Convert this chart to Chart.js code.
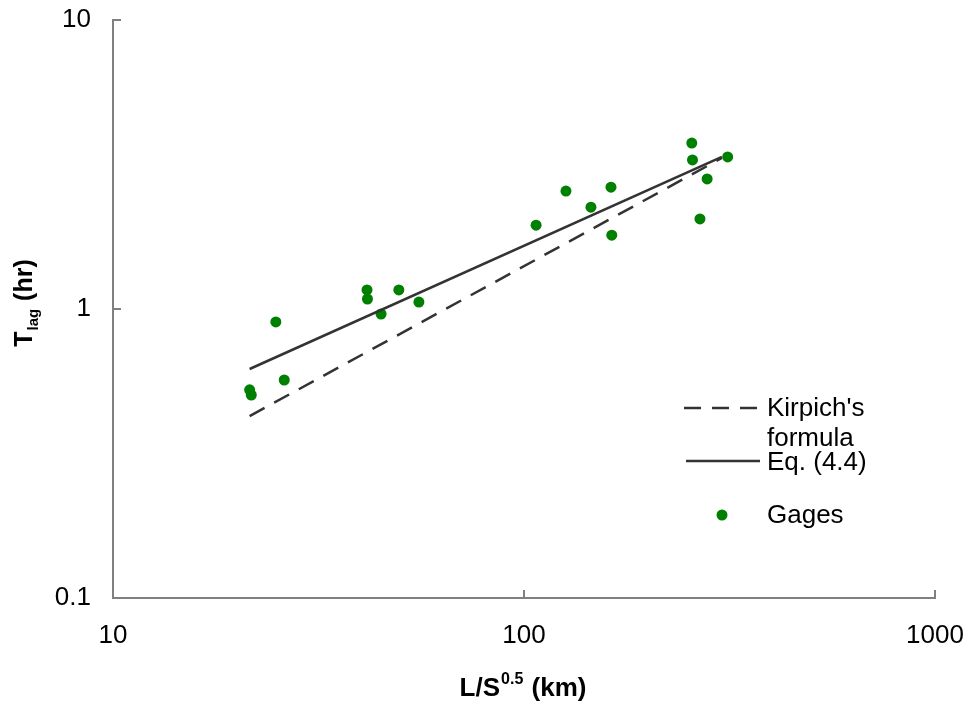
<!DOCTYPE html>
<html>
<head>
<meta charset="utf-8">
<script src="https://cdn.jsdelivr.net/npm/chart.js@4.4.0/dist/chart.umd.min.js"></script>
<style>
  body { margin: 0; background: #fff; }
  #wrap { width: 968px; height: 706px; }
</style>
</head>
<body>
<div id="wrap"><canvas id="lagChart" width="968" height="706"></canvas></div>
<script>
// tick labels (log axes)
const xTicks = [10, 100, 1000];
const yTicks = [0.1, 1, 10];

// gage observations: L/S^0.5 (km) vs T_lag (hr)
const gageX = [21.5, 21.7, 24.9, 26.1, 41.5, 41.6, 44.9, 49.6, 55.5, 107, 126.5, 145.5, 162.8, 163.5, 256, 257, 268, 279, 313];
const gageY = [0.525, 0.504, 0.902, 0.568, 1.164, 1.083, 0.961, 1.164, 1.057, 1.95, 2.56, 2.25, 2.64, 1.80, 3.75, 3.28, 2.05, 2.82, 3.36];

// Kirpich's formula line
const kirpichX = [21.5, 303];
const kirpichY = [0.426, 3.33];

// Eq. (4.4) line
const eqX = [21.5, 303];
const eqY = [0.62, 3.36];

const FONT = '"Liberation Sans", Arial, sans-serif';
const lineColor = '#333333';
const dotColor = '#008000';
const axisColor = '#808080';

function pts(xs, ys) {
  return xs.map((x, i) => ({ x: x, y: ys[i] }));
}

// inside tick marks, titles and legend
const decorPlugin = {
  id: 'decor',
  afterDraw(chart) {
    const ctx = chart.ctx;
    const xs = chart.scales.x;
    const ys = chart.scales.y;
    const area = chart.chartArea;
    ctx.save();

    // tick marks pointing into the plot
    ctx.strokeStyle = axisColor;
    ctx.lineWidth = 2;
    xTicks.forEach((v) => {
      const px = Math.round(xs.getPixelForValue(v));
      ctx.beginPath();
      ctx.moveTo(px, area.bottom);
      ctx.lineTo(px, area.bottom - 8);
      ctx.stroke();
    });
    yTicks.forEach((v) => {
      const py = Math.round(ys.getPixelForValue(v));
      ctx.beginPath();
      ctx.moveTo(area.left, py);
      ctx.lineTo(area.left + 8, py);
      ctx.stroke();
    });

    // x axis title with superscript
    ctx.fillStyle = '#000';
    ctx.textBaseline = 'alphabetic';
    ctx.textAlign = 'left';
    const big = 'bold 26px ' + FONT;
    const small = 'bold 16px ' + FONT;
    ctx.font = big;
    const w1 = ctx.measureText('L/S').width;
    const w3 = ctx.measureText(' (km)').width;
    ctx.font = small;
    const w2 = ctx.measureText('0.5').width;
    let x0 = 522 - (w1 + w2 + w3) / 2;
    const base = 696;
    ctx.font = big;
    ctx.fillText('L/S', x0, base);
    ctx.font = small;
    ctx.fillText('0.5', x0 + w1 + 1, base - 12);
    ctx.font = big;
    ctx.fillText(' (km)', x0 + w1 + w2 + 2, base);

    // y axis title with subscript
    const bigY = 'bold 25px ' + FONT;
    const smallY = 'bold 15px ' + FONT;
    ctx.save();
    ctx.translate(32, 304);
    ctx.rotate(-Math.PI / 2);
    ctx.font = bigY;
    const t1 = ctx.measureText('T').width;
    const t3 = ctx.measureText(' (hr)').width;
    ctx.font = smallY;
    const t2 = ctx.measureText('lag').width;
    let y0 = -(t1 + t2 + t3) / 2;
    ctx.font = bigY;
    ctx.fillText('T', y0, 0);
    ctx.font = smallY;
    ctx.fillText('lag', y0 + t1 + 1, 6);
    ctx.font = bigY;
    ctx.fillText(' (hr)', y0 + t1 + t2 + 2, 0);
    ctx.restore();

    // legend inside the plot
    ctx.font = '26px ' + FONT;
    ctx.textBaseline = 'middle';
    ctx.strokeStyle = lineColor;
    ctx.lineWidth = 2.5;
    ctx.setLineDash([17, 11]);
    ctx.beginPath();
    ctx.moveTo(684, 408);
    ctx.lineTo(760, 408);
    ctx.stroke();
    ctx.setLineDash([]);
    ctx.fillText("Kirpich's", 767, 409);
    ctx.fillText('formula', 767, 439);
    ctx.beginPath();
    ctx.moveTo(686, 461);
    ctx.lineTo(760, 461);
    ctx.stroke();
    ctx.fillText('Eq. (4.4)', 767, 463);
    ctx.fillStyle = dotColor;
    ctx.beginPath();
    ctx.arc(722, 515, 5.5, 0, Math.PI * 2);
    ctx.fill();
    ctx.fillStyle = '#000';
    ctx.fillText('Gages', 767, 516);

    ctx.restore();
  },
};

const ctx = document.getElementById('lagChart').getContext('2d');
const lagChart = new Chart(ctx, {
  type: 'scatter',
  data: {
    datasets: [
      {
        label: "Kirpich's formula",
        data: pts(kirpichX, kirpichY),
        showLine: true,
        borderColor: lineColor,
        borderWidth: 2.5,
        borderDash: [17, 11],
        pointRadius: 0,
        fill: false,
      },
      {
        label: 'Eq. (4.4)',
        data: pts(eqX, eqY),
        showLine: true,
        borderColor: lineColor,
        borderWidth: 2.5,
        pointRadius: 0,
        fill: false,
      },
      {
        label: 'Gages',
        data: pts(gageX, gageY),
        showLine: false,
        backgroundColor: dotColor,
        borderColor: dotColor,
        pointRadius: 5.5,
        pointBorderWidth: 0,
      },
    ],
  },
  options: {
    responsive: false,
    animation: false,
    layout: { padding: { top: 20, right: 33, left: 0, bottom: 0 } },
    plugins: {
      legend: { display: false },
      tooltip: { enabled: false },
    },
    scales: {
      x: {
        type: 'logarithmic',
        min: 10,
        max: 1000,
        afterBuildTicks(scale) {
          scale.ticks = xTicks.map((v) => ({ value: v }));
        },
        afterFit(scale) {
          scale.height = 108;
          scale.paddingLeft = 0;
          scale.paddingRight = 0;
        },
        grid: { display: false },
        border: { display: true, color: axisColor, width: 2 },
        ticks: {
          color: '#000',
          font: { family: FONT, size: 26 },
          padding: 14,
          maxRotation: 0,
          callback: (v) => String(v),
        },
      },
      y: {
        type: 'logarithmic',
        min: 0.1,
        max: 10,
        afterBuildTicks(scale) {
          scale.ticks = yTicks.map((v) => ({ value: v }));
        },
        afterFit(scale) {
          scale.width = 113;
          scale.paddingTop = 0;
          scale.paddingBottom = 0;
        },
        grid: { display: false },
        border: { display: true, color: axisColor, width: 2 },
        ticks: {
          color: '#000',
          font: { family: FONT, size: 26 },
          padding: 14,
          callback: (v) => String(v),
        },
      },
    },
  },
  plugins: [decorPlugin],
});
</script>
</body>
</html>
